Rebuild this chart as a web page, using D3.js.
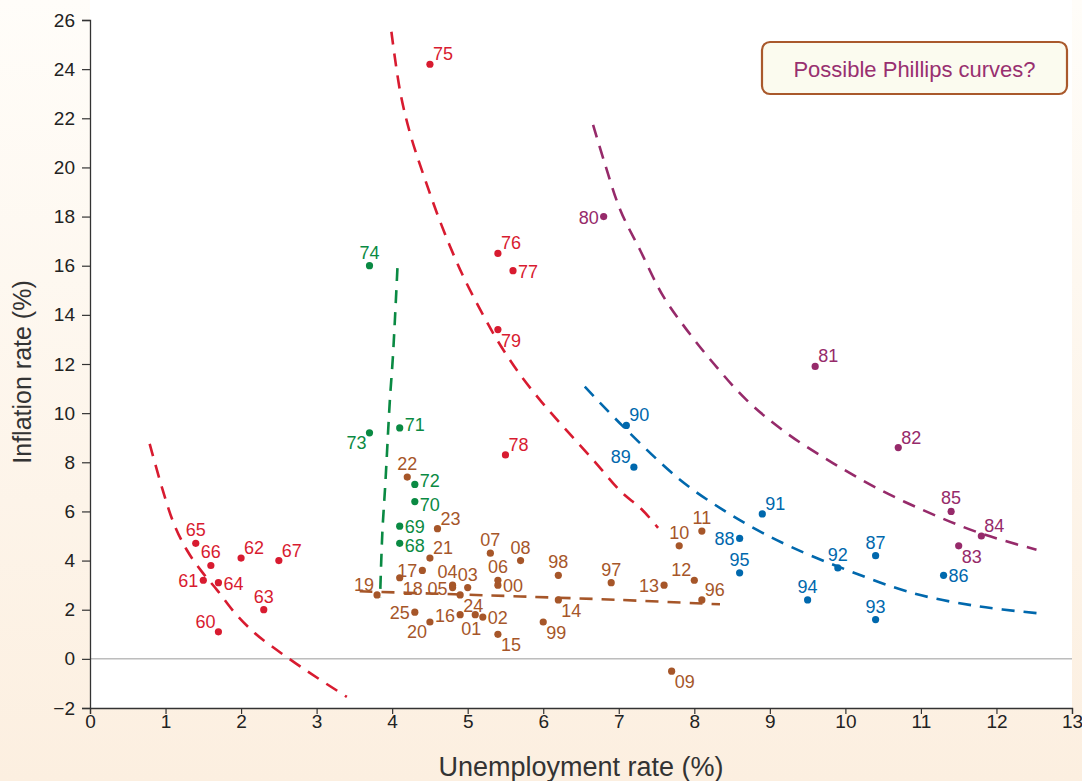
<!DOCTYPE html>
<html>
<head>
<meta charset="utf-8">
<script src="https://cdn.jsdelivr.net/npm/d3@7"></script>
<style>
  html, body { margin: 0; padding: 0; }
  body { width: 1082px; height: 781px; overflow: hidden; }
  svg { display: block; }
</style>
</head>
<body>
<svg id="chart" width="1082" height="781"></svg>
<script>
// ---------------- DATA ----------------
const xTicks = [0,1,2,3,4,5,6,7,8,9,10,11,12,13];
const yTicks = [-2,0,2,4,6,8,10,12,14,16,18,20,22,24,26];

// Red: 1960s and late 1970s
const redYears = ["60","61","62","63","64","65","66","67","75","76","77","78","79"];
const redUnemp = [1.7,1.5,2.0,2.3,1.7,1.4,1.6,2.5,4.5,5.4,5.6,5.5,5.4];
const redInfl  = [1.1,3.2,4.1,2.0,3.1,4.7,3.8,4.0,24.2,16.5,15.8,8.3,13.4];
const redPlace = ["NW","W","NE","N","E","N","N","NE","NE","NE","E","NE","SE"];

// Green: 1968-1974
const greenYears = ["68","69","70","71","72","73","74"];
const greenUnemp = [4.1,4.1,4.3,4.1,4.3,3.7,3.7];
const greenInfl  = [4.7,5.4,6.4,9.4,7.1,9.2,16.0];
const greenPlace = ["ESE","E","ESE","ENE","ENE","SW","N"];

// Purple: 1980-1985
const purpleYears = ["80","81","82","83","84","85"];
const purpleUnemp = [6.8,9.6,10.7,11.5,11.8,11.4];
const purpleInfl  = [18.0,11.9,8.6,4.6,5.0,6.0];
const purplePlace = ["W","NE","NE","SE","NE","N"];

// Blue: 1986-1995
const blueYears = ["86","87","88","89","90","91","92","93","94","95"];
const blueUnemp = [11.3,10.4,8.6,7.2,7.1,8.9,9.9,10.4,9.5,8.6];
const blueInfl  = [3.4,4.2,4.9,7.8,9.5,5.9,3.7,1.6,2.4,3.5];
const bluePlace = ["E","N","W","NW","NE","NE","N","N","N","N"];

// Brown: 1996-2025
const brownYears = ["96","97","98","99","00","01","02","03","04","05","06","07","08","09","10",
                    "11","12","13","14","15","16","17","18","19","20","21","22","23","24","25"];
const brownUnemp = [8.1,6.9,6.2,6.0,5.4,5.1,5.2,5.0,4.8,4.8,5.4,5.3,5.7,7.7,7.8,
                    8.1,8.0,7.6,6.2,5.4,4.9,4.4,4.1,3.8,4.5,4.5,4.2,4.6,4.9,4.3];
const brownInfl  = [2.4,3.1,3.4,1.5,3.0,1.8,1.7,2.9,3.0,2.9,3.2,4.3,4.0,-0.5,4.6,
                    5.2,3.2,3.0,2.4,1.0,1.8,3.6,3.3,2.6,1.5,4.1,7.4,5.3,2.6,1.9];
const brownPlace = ["NE","N","N","SE","E","S","E","N","NNW","W","N","N","N","SE","N",
                    "N","NW","W","SE","SE","W","W","SE","NW","SW","NE","N","NE","SE","W"];

// Dashed "possible Phillips curves"
const curveRed60U = [0.79,1.09,1.28,1.48,1.68,1.92,2.18,2.41,2.9,3.40];
const curveRed60I = [8.75,5.66,4.44,3.55,2.81,1.86,1.05,0.50,-0.55,-1.55];
const curveRed70U = [3.99,4.11,4.25,4.43,4.66,4.93,5.21,5.39,5.66,5.98,6.30,6.67,7.03,7.30,7.52];
const curveRed70I = [25.52,23.02,21.25,19.56,17.60,15.64,13.96,12.98,11.71,10.45,9.33,8.07,6.80,6.10,5.33];
const curveGreenU = [4.07,4.01,3.97,3.91,3.87,3.84];
const curveGreenI = [15.9,12.3,10.54,7.15,5.12,2.48];
const curveBrownU = [3.57,4.6,5.7,7.0,8.34];
const curveBrownI = [2.75,2.65,2.54,2.40,2.22];
const curveBlueU = [6.55,7.06,7.81,8.38,8.83,9.27,9.90,10.90,11.78,12.54];
const curveBlueI = [11.08,9.45,7.29,6.06,5.25,4.57,3.76,2.67,2.13,1.86];
const curvePurpleU = [6.66,6.80,7.02,7.28,7.59,7.90,8.25,8.69,9.22,9.84,10.46,11.12,11.78,12.53];
const curvePurpleI = [21.73,20.31,18.27,16.65,14.75,13.39,12.04,10.54,9.19,7.96,6.88,5.93,5.12,4.44];

const xTitle = "Unemployment rate (%)";
const yTitle = "Inflation rate (%)";
const noteText = "Possible Phillips curves?";

(function () {
// ---------------- STYLE ----------------
const C = {
  red: "#d81b30", green: "#0a8a43", brown: "#a65629", blue: "#0068ad", purple: "#962a6a"
};
const FONT = "'Liberation Sans', Arial, Helvetica, sans-serif";

const svg = d3.select("#chart");
const W = 1082, H = 781;
const pL = 90, pR = 1072, pT = 20, pB = 708;

const defs = svg.append("defs");
const grad = defs.append("linearGradient").attr("id","bg").attr("x1",0).attr("y1",0).attr("x2",0).attr("y2",1);
grad.append("stop").attr("offset","0%").attr("stop-color","#fffdf9");
grad.append("stop").attr("offset","100%").attr("stop-color","#fcefe0");
svg.append("rect").attr("width",W).attr("height",H).attr("fill","url(#bg)");
svg.append("rect").attr("x",pL).attr("y",0).attr("width",pR-pL).attr("height",pB).attr("fill","#ffffff");

const x = d3.scaleLinear().domain([0,13]).range([pL,pR]);
const y = d3.scaleLinear().domain([-2,26]).range([pB,pT]);

// zero line
svg.append("line").attr("x1",pL).attr("x2",pR).attr("y1",y(0)).attr("y2",y(0))
  .attr("stroke","#9a9a9a").attr("stroke-width",1);

// axes
const fmt = d => d < 0 ? "\u2212" + Math.abs(d) : String(d);
const yAxis = svg.append("g").attr("transform",`translate(${pL},0)`)
  .call(d3.axisLeft(y).tickValues(yTicks).tickFormat(fmt).tickSizeOuter(0).tickSize(8).tickPadding(7));
const xAxis = svg.append("g").attr("transform",`translate(0,${pB})`)
  .call(d3.axisBottom(x).tickValues(xTicks).tickFormat(fmt).tickSizeOuter(0).tickSize(6).tickPadding(1));
[yAxis, xAxis].forEach(g => {
  g.select(".domain").attr("stroke","#333").attr("stroke-width",1.3);
  g.selectAll(".tick line").attr("stroke","#333").attr("stroke-width",1.2);
  g.selectAll(".tick text").attr("fill","#222").style("font-family",FONT).style("font-size","19px");
});

// axis titles
svg.append("text").attr("x",(pL+pR)/2).attr("y",776)
  .attr("text-anchor","middle").attr("fill","#333")
  .style("font-family",FONT).style("font-size","27px").text(xTitle);
svg.append("text").attr("transform",`translate(31,372) rotate(-90)`)
  .attr("text-anchor","middle").attr("fill","#333")
  .style("font-family",FONT).style("font-size","25px").text(yTitle);

// curves
const line = d3.line().x(d => x(d[0])).y(d => y(d[1])).curve(d3.curveCatmullRom.alpha(0.5));
const curves = [
  [curveRed60U, curveRed60I, C.red],
  [curveRed70U, curveRed70I, C.red],
  [curveGreenU, curveGreenI, C.green],
  [curveBrownU, curveBrownI, C.brown],
  [curveBlueU, curveBlueI, C.blue],
  [curvePurpleU, curvePurpleI, C.purple]
];
curves.forEach(([u, i, col]) => {
  svg.append("path").datum(u.map((v, k) => [v, i[k]]))
    .attr("d", line).attr("fill","none").attr("stroke",col)
    .attr("stroke-width",2.6).attr("stroke-dasharray","13,9");
});

// points and labels
const placeMap = {
  N:  [0,-13,"middle"], NNW: [-5,-13,"middle"], NE: [3,-10,"start"], E: [5,1,"start"], SE: [3,11,"start"],
  ENE: [5,-3,"start"], ESE: [5,3,"start"],
  S:  [-4,14,"middle"], SW: [-3,10,"end"],  W: [-5,1,"end"],  NW: [-3,-10,"end"]
};
const series = [
  [redYears, redUnemp, redInfl, redPlace, C.red],
  [greenYears, greenUnemp, greenInfl, greenPlace, C.green],
  [purpleYears, purpleUnemp, purpleInfl, purplePlace, C.purple],
  [blueYears, blueUnemp, blueInfl, bluePlace, C.blue],
  [brownYears, brownUnemp, brownInfl, brownPlace, C.brown]
];
series.forEach(([yrs, u, inf, pl, col]) => {
  const data = yrs.map((yr, k) => ({yr, u: u[k], i: inf[k], p: pl[k]}));
  const g = svg.append("g");
  g.selectAll("circle").data(data).join("circle")
    .attr("cx", d => x(d.u)).attr("cy", d => y(d.i)).attr("r", 3.6).attr("fill", col);
  g.selectAll("text").data(data).join("text")
    .attr("x", d => x(d.u) + placeMap[d.p][0])
    .attr("y", d => y(d.i) + placeMap[d.p][1])
    .attr("text-anchor", d => placeMap[d.p][2])
    .attr("dominant-baseline","central")
    .attr("fill", col).style("font-family",FONT).style("font-size","18px")
    .text(d => d.yr);
});

// note box
const note = svg.append("g");
note.append("rect").attr("x",762).attr("y",42).attr("width",305).attr("height",52).attr("rx",8)
  .attr("fill","#fbfbef").attr("stroke","#a9592c").attr("stroke-width",2.2);
note.append("text").attr("x",914.5).attr("y",69).attr("text-anchor","middle")
  .attr("dominant-baseline","central").attr("fill","#983070")
  .style("font-family",FONT).style("font-size","22px").text(noteText);
})();
</script>
</body>
</html>
